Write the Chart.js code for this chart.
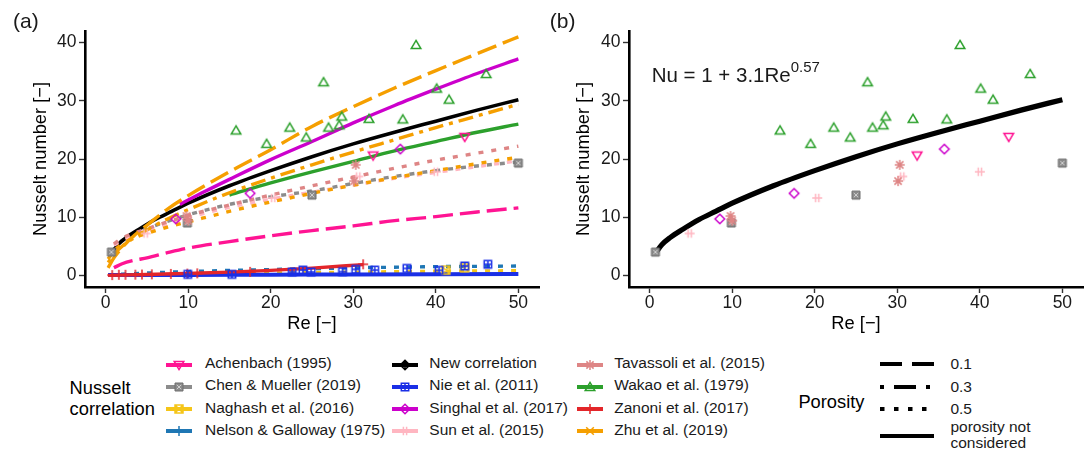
<!DOCTYPE html>
<html>
<head>
<meta charset="utf-8">
<script src="https://cdn.jsdelivr.net/npm/chart.js@4.4.1/dist/chart.umd.min.js"></script>
<style>
  body { margin: 0; background: #fff; width: 1089px; height: 450px; overflow: hidden; position: relative;
         font-family: "Liberation Sans", Arial, Helvetica, sans-serif; color: #1a1a1a; }
  canvas { position: absolute; top: 0; }
  .t { position: absolute; white-space: nowrap; line-height: 1.2; }
</style>
</head>
<body>
<canvas id="panelA" width="545" height="345" style="left:0"></canvas>
<canvas id="panelB" width="544" height="345" style="left:545px"></canvas>
<script>
// axis ticks
const reTicks = [0, 10, 20, 30, 40, 50];
const nuTicks = [0, 10, 20, 30, 40];

// correlation curves
const reNew = [0.8, 1.5, 2.5, 4, 6, 8, 10, 15, 20, 25, 30, 35, 40, 45, 50];
const nuNew = [4.0, 5.3, 6.5, 7.9, 9.6, 11.0, 12.4, 15.4, 18.0, 20.4, 22.6, 24.6, 26.5, 28.4, 30.2];

const reZhu = [0.3, 1, 2, 3.5, 5, 7.5, 10, 15, 20, 25, 30, 35, 40, 45, 50];
const nuZhu01 = [1.3, 3.0, 4.8, 6.9, 8.6, 11.4, 13.7, 17.8, 21.6, 25.6, 29.0, 32.2, 35.2, 38.1, 41.0];
const nuZhu03 = [2.2, 3.6, 5.0, 6.5, 7.8, 9.7, 11.3, 14.2, 16.7, 19.0, 21.2, 23.3, 25.4, 27.4, 29.4];
const nuZhu05 = [2.8, 4.2, 5.4, 6.5, 7.2, 8.3, 9.2, 11.0, 12.6, 14.1, 15.5, 16.8, 18.0, 19.2, 20.3];

const reSinghal = [9, 12, 15, 20, 25, 30, 35, 40, 45, 50];
const nuSinghal = [12.2, 14.4, 16.5, 19.9, 23.0, 26.2, 29.2, 32.0, 34.7, 37.2];

const reWakao = [15, 20, 25, 30, 35, 40, 45, 50];
const nuWakao = [13.8, 15.9, 17.8, 19.6, 21.4, 23.0, 24.6, 26.0];

const reAchenbach = [1, 2, 3.5, 5, 7.5, 10, 15, 20, 25, 30, 35, 40, 45, 50];
const nuAchenbach = [1.3, 2.0, 2.6, 3.0, 3.9, 4.7, 5.8, 6.8, 7.7, 8.5, 9.4, 10.1, 10.9, 11.6];

const reDotted = [1, 2, 5, 10, 15, 20, 25, 30, 35, 40, 45, 50];
const nuTavassoli = [5.4, 6.4, 8.0, 10.3, 12.1, 13.8, 15.4, 16.9, 18.4, 19.8, 21.0, 22.2];
const nuSun = [5.2, 6.0, 7.6, 9.9, 11.7, 13.1, 14.3, 15.5, 16.7, 17.7, 18.7, 19.7];
const reChen = [0.7, 2, 5, 10, 15, 20, 25, 30, 35, 40, 45, 50];
const nuChen = [4.0, 6.0, 8.0, 10.4, 12.2, 13.5, 14.5, 15.8, 17.0, 18.0, 18.8, 19.5];

const reZanoni = [0.3, 5, 10, 15, 20, 25, 31.2];
const nuZanoni = [0.0, 0.15, 0.35, 0.55, 0.85, 1.25, 1.85];
const reLow = [0.3, 10, 20, 30, 40, 50];
const nuNie = [0.05, 0.08, 0.12, 0.16, 0.2, 0.25];
const nuNaghash = [0.0, 0.2, 0.4, 0.55, 0.7, 0.8];
const reNelson = [0.3, 2, 5, 10, 15, 20, 25, 30, 35, 40, 45, 50];
const nuNelson = [0.05, 0.2, 0.4, 0.65, 0.85, 1.0, 1.15, 1.3, 1.4, 1.5, 1.55, 1.6];

// data points
const reWakaoPts = [15.8, 19.5, 22.3, 24.3, 26.4, 27.0, 28.3, 28.6, 31.9, 36.0, 37.6, 40.1, 41.6, 46.1];
const nuWakaoPts = [24.9, 22.6, 25.4, 23.7, 33.2, 25.4, 25.8, 27.3, 26.9, 26.8, 39.6, 32.1, 30.2, 34.6];
const reAchenbachPts = [32.4, 43.5];
const nuAchenbachPts = [20.6, 23.8];
const reSinghalPts = [8.5, 17.5, 35.7];
const nuSinghalPts = [9.7, 14.1, 21.7];
const reTavassoliPts = [9.8, 10.0, 30.1, 30.3];
const nuTavassoliPts = [10.2, 9.4, 16.2, 19.0];
const reSunPts = [4.85, 20.3, 30.6, 40.0];
const nuSunPts = [7.2, 13.3, 17.0, 17.8];
const reChenPts = [0.7, 9.9, 25.0, 50.0];
const nuChenPts = [4.0, 9.0, 13.8, 19.3];
const reNiePts = [9.95, 15.3, 22.6, 23.9, 24.9, 28.7, 30.3, 32.6, 36.5, 40.4, 43.5, 46.3];
const nuNiePts = [0.17, 0.17, 0.57, 0.91, 0.57, 0.63, 1.03, 0.91, 1.2, 0.86, 1.6, 1.9];
const reZanoniPts = [0.8, 1.6, 2.4, 3.6, 4.4, 5.6, 7.9, 9.9, 11.1, 17.5, 31.2];
const nuZanoniPts = [0.05, 0.1, 0.1, 0.12, 0.14, 0.18, 0.25, 0.3, 0.35, 0.6, 1.9];
const reNaghashPts = [41.2, 43.5];
const nuNaghashPts = [0.9, 1.3];

// legend
const correlations = ['Achenbach (1995)', 'Chen & Mueller (2019)', 'Naghash et al. (2016)', 'Nelson & Galloway (1975)',
  'New correlation', 'Nie et al. (2011)', 'Singhal et al. (2017)', 'Sun et al. (2015)',
  'Tavassoli et al. (2015)', 'Wakao et al. (1979)', 'Zanoni et al. (2017)', 'Zhu et al. (2019)'];
const porosityLabels = ['0.1', '0.3', '0.5', 'porosity not considered'];

const COL = {
  achenbach: '#ff1493', chen: '#8c8c8c', naghash: '#f5c518', nelson: '#1f77b4', newc: '#000000',
  nie: '#1a2fe6', singhal: '#cc00cc', sun: '#ffb6c1', tavassoli: '#de8585', wakao: '#2ca02c',
  zanoni: '#e3262a', zhu: '#f59f00'
};
const MARK = ['triangleDown', 'boxCross', 'boxCrossOpen', 'plus', 'diamondPlus', 'boxPlus',
  'diamond', 'bars', 'asterisk', 'triangle', 'plus', 'cross'];
const KEYCOL = [COL.achenbach, COL.chen, COL.naghash, COL.nelson, COL.newc, COL.nie,
  COL.singhal, COL.sun, COL.tavassoli, COL.wakao, COL.zanoni, COL.zhu];

const DASH = { p01: [20, 7], p03: [4, 6, 15, 6], p05: [5, 8], none: [] };
const FONT = '"Liberation Sans", Arial, Helvetica, sans-serif';

function drawMarker(ctx, kind, color, x, y) {
  ctx.save();
  ctx.strokeStyle = color;
  ctx.fillStyle = color;
  ctx.lineWidth = 1.5;
  ctx.beginPath();
  if (kind === 'triangle') {
    ctx.moveTo(x, y - 4.6); ctx.lineTo(x + 4.8, y + 3.6); ctx.lineTo(x - 4.8, y + 3.6); ctx.closePath();
  } else if (kind === 'triangleDown') {
    ctx.moveTo(x, y + 4.6); ctx.lineTo(x + 4.8, y - 3.6); ctx.lineTo(x - 4.8, y - 3.6); ctx.closePath();
  } else if (kind === 'diamond' || kind === 'diamondPlus') {
    ctx.moveTo(x, y - 4.8); ctx.lineTo(x + 4.8, y); ctx.lineTo(x, y + 4.8); ctx.lineTo(x - 4.8, y); ctx.closePath();
    if (kind === 'diamondPlus') {
      ctx.moveTo(x - 4.8, y); ctx.lineTo(x + 4.8, y); ctx.moveTo(x, y - 4.8); ctx.lineTo(x, y + 4.8);
    }
  } else if (kind === 'boxCross') {
    ctx.fillRect(x - 4, y - 4, 8, 8);
    ctx.strokeStyle = '#6e6e6e'; ctx.lineWidth = 1;
    ctx.rect(x - 4, y - 4, 8, 8);
    ctx.stroke();
    ctx.beginPath();
    ctx.strokeStyle = 'rgba(255,255,255,0.75)'; ctx.lineWidth = 0.8;
    ctx.moveTo(x - 2.2, y - 2.2); ctx.lineTo(x + 2.2, y + 2.2); ctx.moveTo(x + 2.2, y - 2.2); ctx.lineTo(x - 2.2, y + 2.2);
  } else if (kind === 'boxCrossOpen') {
    ctx.rect(x - 4, y - 4, 8, 8);
    ctx.moveTo(x - 4, y - 4); ctx.lineTo(x + 4, y + 4); ctx.moveTo(x + 4, y - 4); ctx.lineTo(x - 4, y + 4);
  } else if (kind === 'boxPlus') {
    ctx.rect(x - 3.7, y - 3.7, 7.4, 7.4);
    ctx.moveTo(x - 3.7, y); ctx.lineTo(x + 3.7, y); ctx.moveTo(x, y - 3.7); ctx.lineTo(x, y + 3.7);
  } else if (kind === 'plus') {
    ctx.moveTo(x - 5, y); ctx.lineTo(x + 5, y); ctx.moveTo(x, y - 5); ctx.lineTo(x, y + 5);
  } else if (kind === 'cross') {
    ctx.moveTo(x - 3.8, y - 3.8); ctx.lineTo(x + 3.8, y + 3.8); ctx.moveTo(x + 3.8, y - 3.8); ctx.lineTo(x - 3.8, y + 3.8);
  } else if (kind === 'asterisk') {
    ctx.moveTo(x - 5, y); ctx.lineTo(x + 5, y); ctx.moveTo(x, y - 5); ctx.lineTo(x, y + 5);
    ctx.moveTo(x - 3.6, y - 3.6); ctx.lineTo(x + 3.6, y + 3.6); ctx.moveTo(x + 3.6, y - 3.6); ctx.lineTo(x - 3.6, y + 3.6);
  } else if (kind === 'bars') {
    ctx.moveTo(x - 5, y); ctx.lineTo(x + 5, y);
    ctx.moveTo(x - 1.6, y - 4.2); ctx.lineTo(x - 1.6, y + 4.2); ctx.moveTo(x + 1.6, y - 4.2); ctx.lineTo(x + 1.6, y + 4.2);
  }
  ctx.stroke();
  ctx.restore();
}

function markerImage(kind, color) {
  const c = document.createElement('canvas');
  c.width = 16; c.height = 16;
  drawMarker(c.getContext('2d'), kind, color, 8, 8);
  return c;
}

function toXY(xs, ys) { return xs.map((x, i) => ({ x: x, y: ys[i] })); }

function curve(xs, ys, color, dash, width) {
  return {
    data: toXY(xs, ys), showLine: true, borderColor: color, borderWidth: width || 3.4,
    borderDash: dash, borderCapStyle: 'butt', pointRadius: 0, cubicInterpolationMode: 'monotone', fill: false
  };
}

function marks(xs, ys, kind, color) {
  return { data: toXY(xs, ys), showLine: false, pointStyle: markerImage(kind, color), pointRadius: 5 };
}

function sharedPoints() {
  return [
    marks(reChenPts, nuChenPts, 'boxCross', COL.chen),
    marks(reSunPts, nuSunPts, 'bars', COL.sun),
    marks(reTavassoliPts, nuTavassoliPts, 'asterisk', COL.tavassoli),
    marks(reSinghalPts, nuSinghalPts, 'diamond', COL.singhal),
    marks(reAchenbachPts, nuAchenbachPts, 'triangleDown', COL.achenbach),
    marks(reWakaoPts, nuWakaoPts, 'triangle', COL.wakao)
  ];
}

function options(yWidth, yTitlePad, rightPad) {
  const axis = {
    type: 'linear',
    grid: { drawOnChartArea: false, drawTicks: true, tickLength: 6, tickWidth: 1.4, tickColor: '#333' },
    border: { display: true, color: '#000', width: 2.6 }
  };
  return {
    responsive: false,
    animation: false,
    events: [],
    layout: { padding: { left: 0, right: rightPad, top: 31, bottom: 0 } },
    plugins: { legend: { display: false }, tooltip: { enabled: false } },
    scales: {
      x: Object.assign({}, axis, {
        min: -2.5, max: 52.5,
        afterBuildTicks: s => { s.ticks = reTicks.map(v => ({ value: v })); },
        afterFit: s => { s.height = 58; },
        ticks: { font: { family: FONT, size: 17.5 }, color: '#1a1a1a', padding: 0, maxRotation: 0 },
        title: { display: true, text: 'Re [−]', color: '#000', font: { family: FONT, size: 18.3 },
                 padding: { top: 0, bottom: 9.6 } }
      }),
      y: Object.assign({}, axis, {
        min: -2, max: 42,
        afterBuildTicks: s => { s.ticks = nuTicks.map(v => ({ value: v })); },
        afterFit: s => { s.width = yWidth; },
        ticks: { font: { family: FONT, size: 17.5 }, color: '#1a1a1a', padding: 2.5 },
        title: { display: true, text: 'Nusselt number [−]', color: '#000', font: { family: FONT, size: 18.3 },
                 padding: { top: yTitlePad, bottom: 0 } }
      })
    }
  };
}

// panel (a): bottom-to-top, reversed because Chart.js paints dataset 0 last
const dsA = [
  curve(reAchenbach, nuAchenbach, COL.achenbach, DASH.p01),
  curve(reChen, nuChen, COL.chen, DASH.p05),
  curve(reLow, nuNaghash, COL.naghash, DASH.p05),
  curve(reNelson, nuNelson, COL.nelson, DASH.p05),
  curve(reNew, nuNew, COL.newc, DASH.none, 3.6),
  curve(reLow, nuNie, COL.nie, DASH.none, 4),
  curve(reSinghal, nuSinghal, COL.singhal, DASH.none),
  curve(reDotted, nuSun, COL.sun, DASH.p05),
  curve(reDotted, nuTavassoli, COL.tavassoli, DASH.p05),
  curve(reWakao, nuWakao, COL.wakao, DASH.none),
  curve(reZanoni, nuZanoni, COL.zanoni, DASH.none),
  curve(reZhu, nuZhu05, COL.zhu, DASH.p05),
  curve(reZhu, nuZhu03, COL.zhu, DASH.p03),
  curve(reZhu, nuZhu01, COL.zhu, DASH.p01),
  marks(reNaghashPts, nuNaghashPts, 'boxCrossOpen', COL.naghash),
  marks(reZanoniPts, nuZanoniPts, 'plus', COL.zanoni),
  marks(reNiePts, nuNiePts, 'boxPlus', COL.nie)
].concat(sharedPoints()).reverse();

new Chart(document.getElementById('panelA'), {
  type: 'scatter',
  data: { datasets: dsA },
  options: options(85, 30.1, 5)
});

const dsB = [curve(reNew, nuNew, COL.newc, DASH.none, 5.2)].concat(sharedPoints()).reverse();

new Chart(document.getElementById('panelB'), {
  type: 'scatter',
  data: { datasets: dsB },
  options: options(84, 27.9, 6)
});

// text placed by baseline
function text(str, x, baseline, size, html) {
  const d = document.createElement('div');
  d.className = 't';
  d.style.left = x + 'px';
  d.style.top = (baseline - 0.9465 * size) + 'px';
  d.style.fontSize = size + 'px';
  if (html) d.innerHTML = str; else d.textContent = str;
  document.body.appendChild(d);
  return d;
}

function keyCanvas(x, cy, w, draw) {
  const c = document.createElement('canvas');
  c.width = w + 8; c.height = 18;
  c.style.left = (x - 4) + 'px';
  c.style.top = (cy - 9) + 'px';
  document.body.appendChild(c);
  const ctx = c.getContext('2d');
  draw(ctx, 4, 9);
}

text('(a)', 13, 28.3, 21);
text('(b)', 549.8, 28.3, 21);
text('Nu = 1 + 3.1Re<span style="font-size:15px;vertical-align:10.5px;line-height:0">0.57</span>', 651.7, 82.3, 20.5, true);

// Nusselt correlation legend
text('Nusselt', 69.6, 394.6, 18.3).style.color = '#000';
text('correlation', 69.6, 415.6, 18.3).style.color = '#000';
const rowY = [364.7, 387, 409.3, 431.3];
const keyX = [166, 391.7, 576.8];
const labelX = [205, 429.3, 614.2];
correlations.forEach((name, i) => {
  const col = Math.floor(i / 4), row = i % 4;
  keyCanvas(keyX[col], rowY[row], 26, (ctx, x0, y0) => {
    ctx.strokeStyle = KEYCOL[i];
    ctx.lineWidth = 4;
    ctx.beginPath(); ctx.moveTo(x0, y0); ctx.lineTo(x0 + 26, y0); ctx.stroke();
    drawMarker(ctx, MARK[i], KEYCOL[i], x0 + 13, y0);
  });
  text(name, labelX[col], rowY[row] + 4, 15.5);
});

// Porosity legend
text('Porosity', 798.4, 408, 18.3).style.color = '#000';
const porY = [364, 386.7, 409, 435.7];
const porDash = [[22, 10], [4, 10, 22, 10], [4.5, 9.5], []];
porosityLabels.forEach((lab, i) => {
  keyCanvas(880, porY[i], 54, (ctx, x0, y0) => {
    ctx.strokeStyle = '#000';
    ctx.lineWidth = 4;
    ctx.setLineDash(porDash[i]);
    ctx.beginPath(); ctx.moveTo(x0, y0); ctx.lineTo(x0 + 54, y0); ctx.stroke();
  });
});
text('0.1', 950.4, 369.5, 15.5);
text('0.3', 950.4, 392.2, 15.5);
text('0.5', 950.4, 414.5, 15.5);
text('porosity not', 950.4, 432.5, 15.5);
text('considered', 950.4, 449, 15.5);
</script>
</body>
</html>
